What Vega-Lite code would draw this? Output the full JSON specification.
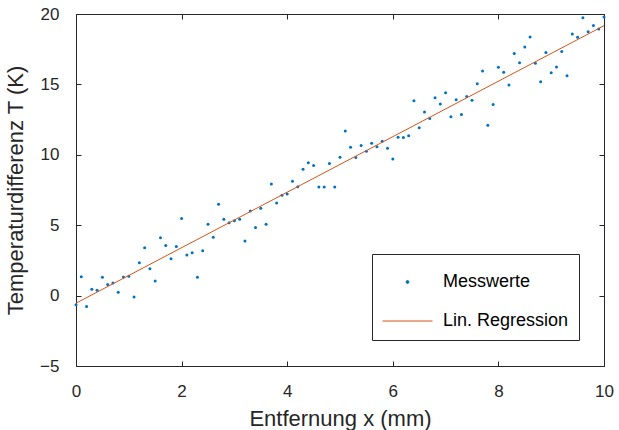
{
  "$schema": "https://vega.github.io/schema/vega-lite/v6.json",
  "width": 528,
  "height": 352,
  "autosize": "none",
  "padding": {"left": 76, "top": 14, "right": 15, "bottom": 64},
  "background": "white",
  "config": {
    "view": {"stroke": null},
    "font": "Liberation Sans",
    "axis": {
      "grid": false,
      "labelFlush": false,
      "domainColor": "#262626",
      "domainWidth": 1,
      "tickColor": "#262626",
      "tickSize": -5,
      "labelColor": "#262626",
      "titleColor": "#262626",
      "labelFont": "Liberation Sans",
      "titleFont": "Liberation Sans",
      "labelFontSize": 17,
      "titleFontSize": 22,
      "titleFontWeight": "normal"
    }
  },
  "datasets": {
    "mess": [
      {"x": 0.0, "y": -0.65}, {"x": 0.1, "y": 1.34}, {"x": 0.2, "y": -0.78}, {"x": 0.3, "y": 0.45}, {"x": 0.4, "y": 0.38},
      {"x": 0.5, "y": 1.3}, {"x": 0.6, "y": 0.78}, {"x": 0.7, "y": 0.9}, {"x": 0.8, "y": 0.24}, {"x": 0.9, "y": 1.32},
      {"x": 1.0, "y": 1.37}, {"x": 1.1, "y": -0.1}, {"x": 1.2, "y": 2.33}, {"x": 1.3, "y": 3.4}, {"x": 1.4, "y": 1.9},
      {"x": 1.5, "y": 1.04}, {"x": 1.6, "y": 4.1}, {"x": 1.7, "y": 3.56}, {"x": 1.8, "y": 2.62}, {"x": 1.9, "y": 3.49},
      {"x": 2.0, "y": 5.47}, {"x": 2.1, "y": 2.88}, {"x": 2.2, "y": 3.04}, {"x": 2.3, "y": 1.3}, {"x": 2.4, "y": 3.18},
      {"x": 2.5, "y": 5.07}, {"x": 2.6, "y": 4.15}, {"x": 2.7, "y": 6.48}, {"x": 2.8, "y": 5.43}, {"x": 2.9, "y": 5.17},
      {"x": 3.0, "y": 5.32}, {"x": 3.1, "y": 5.43}, {"x": 3.2, "y": 3.87}, {"x": 3.3, "y": 6.01}, {"x": 3.4, "y": 4.83},
      {"x": 3.5, "y": 6.2}, {"x": 3.6, "y": 5.07}, {"x": 3.7, "y": 7.92}, {"x": 3.8, "y": 6.58}, {"x": 3.9, "y": 7.12},
      {"x": 4.0, "y": 7.21}, {"x": 4.1, "y": 8.13}, {"x": 4.2, "y": 7.73}, {"x": 4.3, "y": 8.98}, {"x": 4.4, "y": 9.43},
      {"x": 4.5, "y": 9.24}, {"x": 4.6, "y": 7.71}, {"x": 4.7, "y": 7.71}, {"x": 4.8, "y": 9.38}, {"x": 4.9, "y": 7.71},
      {"x": 5.0, "y": 9.83}, {"x": 5.1, "y": 11.69}, {"x": 5.2, "y": 10.54}, {"x": 5.3, "y": 9.81}, {"x": 5.4, "y": 10.66},
      {"x": 5.5, "y": 10.25}, {"x": 5.6, "y": 10.82}, {"x": 5.7, "y": 10.58}, {"x": 5.8, "y": 10.96}, {"x": 5.9, "y": 10.47},
      {"x": 6.0, "y": 9.71}, {"x": 6.1, "y": 11.24}, {"x": 6.2, "y": 11.22}, {"x": 6.3, "y": 11.36}, {"x": 6.4, "y": 13.84},
      {"x": 6.5, "y": 11.93}, {"x": 6.6, "y": 13.04}, {"x": 6.7, "y": 12.57}, {"x": 6.8, "y": 14.05}, {"x": 6.9, "y": 13.6},
      {"x": 7.0, "y": 14.4}, {"x": 7.1, "y": 12.71}, {"x": 7.2, "y": 13.91}, {"x": 7.3, "y": 12.87}, {"x": 7.4, "y": 14.14},
      {"x": 7.5, "y": 13.87}, {"x": 7.6, "y": 15.04}, {"x": 7.7, "y": 15.96}, {"x": 7.8, "y": 12.09}, {"x": 7.9, "y": 13.58},
      {"x": 8.0, "y": 16.22}, {"x": 8.1, "y": 15.86}, {"x": 8.2, "y": 14.95}, {"x": 8.3, "y": 17.19}, {"x": 8.4, "y": 16.53},
      {"x": 8.5, "y": 17.66}, {"x": 8.6, "y": 18.36}, {"x": 8.7, "y": 16.51}, {"x": 8.8, "y": 15.18}, {"x": 8.9, "y": 17.26},
      {"x": 9.0, "y": 15.82}, {"x": 9.1, "y": 16.24}, {"x": 9.2, "y": 17.33}, {"x": 9.3, "y": 15.61}, {"x": 9.4, "y": 18.58},
      {"x": 9.5, "y": 18.34}, {"x": 9.6, "y": 19.73}, {"x": 9.7, "y": 18.74}, {"x": 9.8, "y": 19.19}, {"x": 9.9, "y": 18.93},
      {"x": 10.0, "y": 19.78}
    ],
    "fit": [
      {"x": 0, "y": -0.54},
      {"x": 10, "y": 19.17}
    ]
  },
  "layer": [
    {
      "data": {"name": "mess"},
      "mark": {"type": "point", "filled": true, "size": 9, "opacity": 1, "clip": false},
      "encoding": {
        "x": {"field": "x", "type": "quantitative",
          "scale": {"domain": [0, 10], "nice": false, "zero": false},
          "axis": {"orient": "bottom", "values": [0, 2, 4, 6, 8, 10], "title": "Entfernung x (mm)", "labelPadding": 22, "titlePadding": 9}},
        "y": {"field": "y", "type": "quantitative",
          "scale": {"domain": [-5, 20], "nice": false, "zero": false},
          "axis": {"orient": "left", "values": [-5, 0, 5, 10, 15, 20], "title": "Temperaturdifferenz T (K)", "labelPadding": 22, "titlePadding": 12}},
        "color": {"datum": "Messwerte", "type": "nominal",
          "scale": {"domain": ["Messwerte", "Lin. Regression"], "range": ["#0072BD", "#D95319"]},
          "legend": {
            "title": null,
            "orient": "none",
            "legendX": 296,
            "legendY": 240,
            "strokeColor": "#262626",
            "fillColor": "white",
            "padding": 10,
            "labelFontSize": 18,
            "labelFont": "Liberation Sans",
            "labelColor": "#000000",
            "labelOffset": 10,
            "symbolSize": 2500,
            "symbolOffset": 0,
            "rowPadding": 12,
            "encode": {
              "symbols": {"update": {
                "shape": {"signal": "datum.label === 'Messwerte' ? 'circle' : 'stroke'"},
                "size": {"signal": "datum.label === 'Messwerte' ? 8 : 2500"},
                "fill": {"signal": "datum.label === 'Messwerte' ? '#0072BD' : 'transparent'"},
                "stroke": {"signal": "datum.label === 'Messwerte' ? 'transparent' : '#D95319'"},
                "strokeWidth": {"value": 1},
                "opacity": {"value": 1},
                "y": {"value": 18}
              }},
              "labels": {"update": {"y": {"value": 18}}}
            }
          }}
      }
    },
    {
      "data": {"name": "fit"},
      "mark": {"type": "line", "strokeWidth": 1},
      "encoding": {
        "x": {"field": "x", "type": "quantitative",
          "axis": {"orient": "top", "values": [0, 2, 4, 6, 8, 10], "labels": false, "title": null}},
        "y": {"field": "y", "type": "quantitative",
          "axis": {"orient": "right", "values": [-5, 0, 5, 10, 15, 20], "labels": false, "title": null}},
        "color": {"datum": "Lin. Regression", "type": "nominal",
          "legend": {
            "title": null,
            "orient": "none",
            "legendX": 296,
            "legendY": 240,
            "strokeColor": "#262626",
            "fillColor": "white",
            "padding": 10,
            "labelFontSize": 18,
            "labelFont": "Liberation Sans",
            "labelColor": "#000000",
            "labelOffset": 10,
            "symbolSize": 2500,
            "symbolOffset": 0,
            "rowPadding": 12,
            "encode": {
              "symbols": {"update": {
                "shape": {"signal": "datum.label === 'Messwerte' ? 'circle' : 'stroke'"},
                "size": {"signal": "datum.label === 'Messwerte' ? 8 : 2500"},
                "fill": {"signal": "datum.label === 'Messwerte' ? '#0072BD' : 'transparent'"},
                "stroke": {"signal": "datum.label === 'Messwerte' ? 'transparent' : '#D95319'"},
                "strokeWidth": {"value": 1},
                "opacity": {"value": 1},
                "y": {"value": 18}
              }},
              "labels": {"update": {"y": {"value": 18}}}
            }
          }}
      }
    }
  ],
  "resolve": {"axis": {"x": "independent", "y": "independent"}}
}
